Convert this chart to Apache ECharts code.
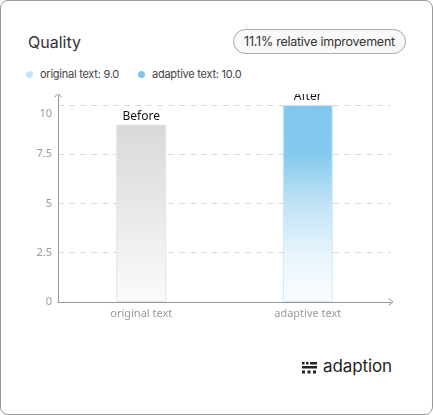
<!DOCTYPE html>
<html><head><meta charset="utf-8">
<script src="https://cdn.jsdelivr.net/npm/echarts@6/dist/echarts.min.js"></script>
<style>
html,body{margin:0;padding:0;background:#fff;}
#card{position:absolute;left:0;top:0;width:431px;height:413px;border:1px solid #9a9a9a;border-radius:8px;background:#fff;overflow:hidden;font-family:Inter,"Noto Sans",sans-serif;}
#title{position:absolute;left:27px;top:31px;font-size:16px;color:#333;}
#badge{position:absolute;left:232px;top:28px;width:171px;height:23px;border:1px solid #aaa;border-radius:13px;background:#f9f9f9;font-size:12.5px;color:#333;line-height:23px;text-align:center;letter-spacing:-0.25px;}
#legend{position:absolute;left:25px;top:66px;font-size:11px;color:#444;letter-spacing:-0.25px;}
.li{position:absolute;white-space:nowrap;}
.dot{position:absolute;top:4px;width:7px;height:7px;border-radius:50%;}
#chart{position:absolute;left:0;top:93px;width:433px;height:240px;}
#logo{position:absolute;left:300px;top:356px;height:22px;}
#logotxt{position:absolute;left:22px;top:-1px;font-size:17px;font-weight:400;color:#222;font-family:Inter,sans-serif;letter-spacing:-0.1px;}
</style></head>
<body>
<div id="card">
  <div id="title"></div>
  <div id="badge"></div>
  <div id="legend"></div>
  <div id="chart"></div>
  <div id="logo">
    <svg width="17" height="16" style="position:absolute;left:0;top:4px">
      <rect x="1" y="1" width="2.5" height="2.5" fill="#222"/>
      <rect x="5" y="1" width="2.5" height="2.5" fill="#222"/>
      <rect x="9" y="1" width="7" height="2.5" fill="#222"/>
      <rect x="1" y="5" width="15" height="2.5" fill="#222"/>
      <rect x="1" y="9.5" width="3" height="3" fill="#222"/>
      <rect x="6.5" y="9.5" width="3" height="3" fill="#222"/>
      <rect x="12" y="9.5" width="3" height="3" fill="#222"/>
    </svg>
    <div id="logotxt">adaption</div>
  </div>
</div>
<script>
const titleText = "Quality";
const badgeText = "11.1% relative improvement";
const categories = ["original text", "adaptive text"];
const values = [9.0, 10.0];
const barLabels = ["Before", "After"];
const legendNames = ["original text", "adaptive text"];
const legendColors = ["#c6e5f7", "#7fc4ea"];
const yTicks = [0, 2.5, 5, 7.5, 10];

document.getElementById('title').textContent = titleText;
document.getElementById('badge').textContent = badgeText;
const lg = document.getElementById('legend');
const legendX = [0, 112];
legendNames.forEach((n, i) => {
  const d = document.createElement('div');
  d.className = 'li';
  d.style.left = legendX[i] + 'px';
  d.innerHTML = '<span class="dot" style="left:0;background:' + legendColors[i] + '"></span><span style="margin-left:14px">' + n + ': ' + values[i].toFixed(1) + '</span>';
  lg.appendChild(d);
});

const arrowPath = 'path://M0,6 L5,0 L10,6 L9,6.8 L5,1.6 L1,6.8 Z';
const grads = [
  new echarts.graphic.LinearGradient(0,0,0,1,[{offset:0,color:'#d9d9d9'},{offset:0.5,color:'#e9e9e9'},{offset:1,color:'#fbfbfb'}]),
  new echarts.graphic.LinearGradient(0,0,0,1,[{offset:0,color:'#82c8ee'},{offset:0.25,color:'#84c9ee'},{offset:0.5,color:'#c0e3f6'},{offset:0.75,color:'#e6f4fc'},{offset:1,color:'#fbfdff'}])
];
const borders = ['#e4e4e4', '#d0e9f8'];

const chart = echarts.init(document.getElementById('chart'), null, {renderer:'canvas'});
chart.setOption({
  animation: false,
  grid: {left: 57, right: 43, top: 1, bottom: 32},
  xAxis: {
    type: 'category',
    data: categories,
    axisLine: {show: true, symbol: ['none', arrowPath], symbolSize: [8, 5], lineStyle: {color: '#999', width: 1}},
    axisTick: {show: false},
    axisLabel: {color: '#999', fontSize: 11, margin: 6, fontFamily: '"Noto Sans", sans-serif'}
  },
  yAxis: {
    type: 'value',
    min: 0, max: 10.5, interval: 2.5,
    axisLine: {show: true, symbol: ['none', arrowPath], symbolSize: [8, 5], lineStyle: {color: '#999', width: 1}},
    axisTick: {show: false},
    axisLabel: {
      color: '#999', fontSize: 11, margin: 6, fontFamily: '"Noto Sans", sans-serif',
      showMaxLabel: false,
      formatter: v => (yTicks.indexOf(v) < 0 ? '' : (v === 10 ? '{d|10}' : String(v))),
      rich: {d: {color: '#999', fontSize: 11, padding: [18, 0, 0, 0], fontFamily: '"Noto Sans", sans-serif'}}
    },
    splitLine: {show: true, showMaxLine: false, lineStyle: {color: '#d9d9d9', type: [6, 5], width: 1}}
  },
  series: [{
    type: 'bar',
    barWidth: 50,
    data: values.map((v, i) => ({
      value: v,
      itemStyle: {color: grads[i], borderColor: borders[i], borderWidth: 1},
      label: {show: true, position: 'top', distance: 2, formatter: barLabels[i], color: '#111', fontSize: 12, fontFamily: '"Noto Sans", sans-serif'}
    }))
  }]
});
</script>
</body></html>
